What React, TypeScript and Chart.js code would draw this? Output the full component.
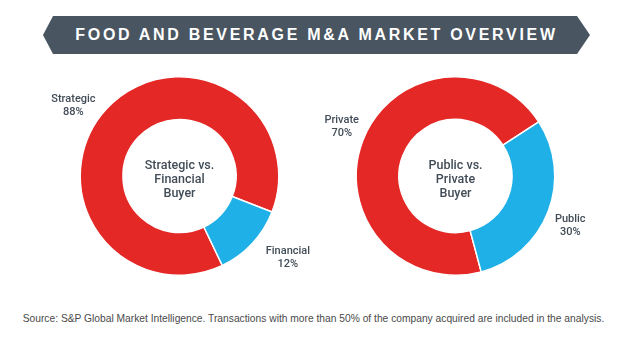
import React, { useEffect, useRef } from "react";
import { Chart, registerables } from "chart.js";

Chart.register(...registerables);

// ---- data ----
const buyerTypeLabels = ["Strategic", "Financial"];
const buyerTypeValues = [88, 12];
const buyerTypeCenter = ["Strategic vs.", "Financial", "Buyer"];

const ownershipLabels = ["Private", "Public"];
const ownershipValues = [70, 30];
const ownershipCenter = ["Public vs.", "Private", "Buyer"];

const titleText = "FOOD AND BEVERAGE M&A MARKET OVERVIEW";
const sourceText =
  "Source: S&P Global Market Intelligence. Transactions with more than 50% of the company acquired are included in the analysis.";

// ---- style ----
const RED = "#e42826";
const BLUE = "#1eb0e6";
const TEXT = "#414c57";
const FONT = "Roboto, 'Liberation Sans', Arial, sans-serif";

const sliceLabelPlugin = {
  id: "sliceLabels",
  afterDraw(chart: any, _args: any, opts: any) {
    const ctx = chart.ctx;
    const meta = chart.getDatasetMeta(0);
    const values = chart.data.datasets[0].data as number[];
    const labels = chart.data.labels as string[];
    ctx.save();
    ctx.fillStyle = TEXT;
    ctx.textAlign = "center";
    ctx.textBaseline = "middle";
    let cx = 0;
    let cy = 0;
    meta.data.forEach((arc: any, i: number) => {
      const p = arc.getProps(["x", "y", "startAngle", "endAngle", "outerRadius"], true);
      cx = p.x;
      cy = p.y;
      const mid = (p.startAngle + p.endAngle) / 2 + (opts.shift[i] * Math.PI) / 180;
      const r = opts.radius[i];
      const lx = p.x + Math.cos(mid) * r;
      const ly = p.y + Math.sin(mid) * r;
      ctx.font = `500 11px ${FONT}`;
      ctx.fillText(labels[i], lx, ly - 6.5);
      ctx.fillText(`${values[i]}%`, lx, ly + 6.5);
    });
    ctx.font = `500 12.5px ${FONT}`;
    const lines: string[] = opts.center;
    const lh = 14;
    lines.forEach((t, k) => {
      ctx.fillText(t, cx, cy + (k - (lines.length - 1) / 2) * lh + 4);
    });
    ctx.restore();
  },
};

function Donut(props: {
  labels: string[];
  values: number[];
  center: string[];
  rotation: number;
  padding: { left: number; right: number; top: number; bottom: number };
  shift: number[];
  radius: number[];
  style: React.CSSProperties;
  width: number;
  height: number;
}) {
  const ref = useRef<HTMLCanvasElement>(null);
  useEffect(() => {
    if (!ref.current) return;
    const chart = new Chart(ref.current, {
      type: "doughnut",
      data: {
        labels: props.labels,
        datasets: [
          {
            data: props.values,
            backgroundColor: [RED, BLUE],
            borderColor: "#ffffff",
            borderWidth: 1.5,
          },
        ],
      },
      options: {
        responsive: false,
        animation: false,
        rotation: props.rotation,
        cutout: "57%",
        layout: { padding: props.padding },
        plugins: {
          legend: { display: false },
          tooltip: { enabled: false },
          sliceLabels: { shift: props.shift, radius: props.radius, center: props.center },
        } as any,
      },
      plugins: [sliceLabelPlugin],
    });
    return () => chart.destroy();
  }, []);
  return (
    <canvas
      ref={ref}
      width={props.width}
      height={props.height}
      style={{ position: "absolute", ...props.style, width: props.width, height: props.height }}
    />
  );
}

export default function App() {
  return (
    <div
      style={{
        position: "absolute",
        left: 0,
        top: 0,
        width: 617,
        height: 355,
        background: "#ffffff",
        overflow: "hidden",
        fontFamily: FONT,
      }}
    >
      <div
        style={{
          position: "absolute",
          left: 43,
          top: 16,
          width: 547,
          height: 38,
          background: "#495561",
          clipPath: "polygon(0 50%, 10px 0, 534px 0, 547px 50%, 534px 100%, 10px 100%)",
          display: "flex",
          alignItems: "center",
          justifyContent: "center",
        }}
      >
        <span
          style={{
            color: "#ffffff",
            fontFamily: "'Liberation Sans', Arial, sans-serif",
            fontWeight: 700,
            fontSize: 16,
            letterSpacing: 2.7,
            marginLeft: 0,
            whiteSpace: "nowrap",
          }}
        >
          {titleText}
        </span>
      </div>

      <Donut
        labels={buyerTypeLabels}
        values={buyerTypeValues}
        center={buyerTypeCenter}
        rotation={154.45}
        width={290}
        height={230}
        style={{ left: 20, top: 60 }}
        padding={{ left: 59.5, right: 30.5, top: 16, bottom: 14 }}
        shift={[-9.5, -5.7]}
        radius={[127, 136]}
      />
      <Donut
        labels={ownershipLabels}
        values={ownershipValues}
        center={ownershipCenter}
        rotation={165}
        width={307}
        height={230}
        style={{ left: 310, top: 60 }}
        padding={{ left: 45.5, right: 61.5, top: 16, bottom: 14 }}
        shift={[2.4, 2.4]}
        radius={[124, 125]}
      />

      <div
        style={{
          position: "absolute",
          left: 0,
          width: 627,
          top: 312,
          textAlign: "center",
          fontFamily: "'Liberation Sans', Arial, sans-serif",
          fontSize: 10.25,
          color: "#4a4a4a",
          whiteSpace: "nowrap",
          lineHeight: "14px",
        }}
      >
        {sourceText}
      </div>
    </div>
  );
}
